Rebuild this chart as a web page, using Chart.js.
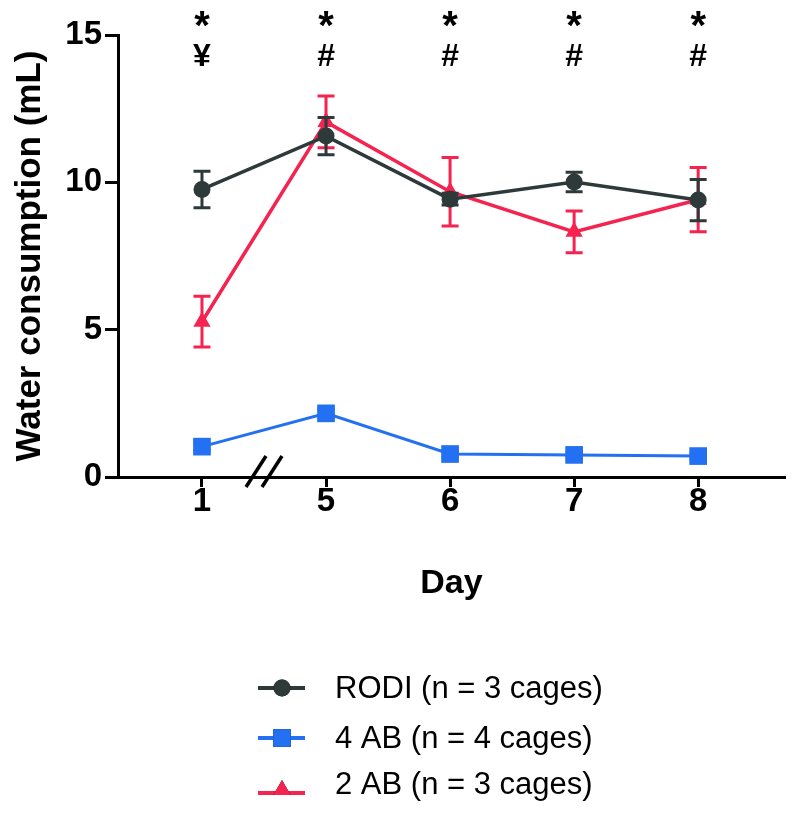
<!DOCTYPE html>
<html>
<head>
<meta charset="utf-8">
<script src="https://cdn.jsdelivr.net/npm/chart.js@4/dist/chart.umd.min.js"></script>
<style>
  html, body { margin: 0; padding: 0; background: #fff; }
  canvas { display: block; }
</style>
</head>
<body>
<canvas id="c" width="800" height="816"></canvas>
<script>
// ---- data ----
const days = ['1', '5', '6', '7', '8'];
const rodiMean = [9.76, 11.57, 9.43, 10.01, 9.40];
const rodiSem  = [0.62, 0.63, 0.20, 0.33, 0.70];
const ab4Mean  = [1.03, 2.16, 0.78, 0.75, 0.71];
const ab4Sem   = [0.12, 0.15, 0.10, 0.10, 0.10];
const ab2Mean  = [5.27, 12.05, 9.68, 8.32, 9.41];
const ab2Sem   = [0.86, 0.88, 1.16, 0.71, 1.09];
const sigRow1  = ['*', '*', '*', '*', '*'];
const sigRow2  = ['¥', '#', '#', '#', '#'];
const yTicks   = [0, 5, 10, 15];
const seriesLabels = ['RODI (n = 3 cages)', '4 AB (n = 4 cages)', '2 AB (n = 3 cages)'];

const DARK = '#2e3a3a', BLUE = '#2470f2', RED = '#f4234f';
const FONT = "'Liberation Sans', Arial, Helvetica, sans-serif";

const toXY = arr => arr.map((v, i) => ({ x: i, y: v }));

const errorBars = {
  id: 'errorBars',
  beforeDatasetDraw(chart, args) {
    const ds = chart.data.datasets[args.index];
    if (!ds.errors) return;
    const { ctx } = chart;
    const xs = chart.scales.x, ys = chart.scales.y;
    ctx.save();
    ctx.strokeStyle = ds.borderColor;
    ctx.lineWidth = 3;
    ds.data.forEach((p, i) => {
      const e = ds.errors[i];
      const px = xs.getPixelForValue(p.x);
      const top = ys.getPixelForValue(p.y + e);
      const bot = ys.getPixelForValue(p.y - e);
      const w = 8.5;
      ctx.beginPath();
      ctx.moveTo(px, top); ctx.lineTo(px, bot);
      ctx.moveTo(px - w, top); ctx.lineTo(px + w, top);
      ctx.moveTo(px - w, bot); ctx.lineTo(px + w, bot);
      ctx.stroke();
    });
    ctx.restore();
  }
};

const extras = {
  id: 'extras',
  afterDraw(chart) {
    const { ctx } = chart;
    const xs = chart.scales.x, ys = chart.scales.y;
    ctx.save();
    // significance markers
    ctx.fillStyle = '#000';
    ctx.textAlign = 'center';
    ctx.textBaseline = 'middle';
    days.forEach((d, i) => {
      const px = xs.getPixelForValue(i);
      ctx.font = 'bold 40px ' + FONT;
      ctx.fillText(sigRow1[i], px, 28);
      ctx.font = 'bold 32px ' + FONT;
      ctx.fillText(sigRow2[i], px, 57);
    });
    // axis break marks
    const bx = xs.getPixelForValue(0.5);
    const by = ys.getPixelForValue(0);
    ctx.strokeStyle = '#000';
    ctx.lineWidth = 3.5;
    [-8, 8].forEach(off => {
      ctx.beginPath();
      ctx.moveTo(bx + off - 10, by + 10);
      ctx.lineTo(bx + off + 10, by - 21);
      ctx.stroke();
    });
    // legend
    const rows = [
      { lineY: 688, textY: 689 },
      { lineY: 738, textY: 739 },
      { lineY: 793, textY: 785 }
    ];
    chart.data.datasets.forEach((ds, i) => {
      const r = rows[i];
      ctx.strokeStyle = ds.borderColor;
      ctx.lineWidth = 4;
      ctx.beginPath();
      ctx.moveTo(258, r.lineY); ctx.lineTo(305, r.lineY);
      ctx.stroke();
      Chart.helpers.drawPoint(ctx, {
        pointStyle: ds.pointStyle, radius: ds.pointRadius, rotation: 0, borderWidth: 0
      }, 282, r.lineY - (ds.pointStyle === 'triangle' ? 3 : 0));
      ctx.fillStyle = ds.borderColor;
      ctx.fill();
      ctx.fillStyle = '#000';
      ctx.textAlign = 'left';
      ctx.textBaseline = 'middle';
      ctx.font = '31px ' + FONT;
      ctx.fillText(ds.label, 335, r.textY);
    });
    ctx.restore();
  }
};

new Chart(document.getElementById('c'), {
  type: 'line',
  data: {
    datasets: [
      { label: seriesLabels[0], data: toXY(rodiMean), errors: rodiSem,
        borderColor: DARK, backgroundColor: DARK, pointBackgroundColor: DARK,
        borderWidth: 3.5, pointStyle: 'circle', pointRadius: 8.5, pointBorderWidth: 0 },
      { label: seriesLabels[1], data: toXY(ab4Mean), errors: ab4Sem,
        borderColor: BLUE, backgroundColor: BLUE, pointBackgroundColor: BLUE,
        borderWidth: 3, pointStyle: 'rect', pointRadius: 12.5, pointBorderWidth: 0 },
      { label: seriesLabels[2], data: toXY(ab2Mean), errors: ab2Sem,
        borderColor: RED, backgroundColor: RED, pointBackgroundColor: RED,
        borderWidth: 3.5, pointStyle: 'triangle', pointRadius: 10, pointBorderWidth: 0 }
    ]
  },
  options: {
    responsive: false,
    animation: false,
    layout: { padding: { top: 35, right: 15, bottom: 212, left: 0 } },
    plugins: { legend: { display: false }, tooltip: { enabled: false } },
    elements: { line: { tension: 0 } },
    scales: {
      x: {
        type: 'linear',
        min: -0.677,
        max: 4.70,
        afterFit: s => { s.height = 127; },
        afterBuildTicks: s => { s.ticks = days.map((d, i) => ({ value: i })); },
        border: { color: '#000', width: 3 },
        grid: { drawOnChartArea: false, tickLength: 10, tickWidth: 3, tickColor: '#000' },
        ticks: {
          color: '#000', padding: -2,
          font: { family: FONT, size: 33, weight: 'bold', lineHeight: 1 },
          callback: v => days[v]
        },
        title: {
          display: true, text: 'Day', color: '#000',
          font: { family: FONT, size: 34, weight: 'bold' },
          padding: { top: 0, bottom: 0 }
        }
      },
      y: {
        min: 0, max: 15,
        afterFit: s => { s.width = 118; },
        afterBuildTicks: s => { s.ticks = yTicks.map(v => ({ value: v })); },
        border: { color: '#000', width: 3 },
        grid: { drawOnChartArea: false, tickLength: 13, tickWidth: 3, tickColor: '#000' },
        ticks: {
          color: '#000', padding: 3,
          font: { family: FONT, size: 33, weight: 'bold' }
        },
        title: {
          display: true, text: 'Water consumption (mL)', color: '#000',
          font: { family: FONT, size: 35, weight: 'bold' },
          padding: { top: 9, bottom: 0 }
        }
      }
    }
  },
  plugins: [errorBars, extras]
});
</script>
</body>
</html>
